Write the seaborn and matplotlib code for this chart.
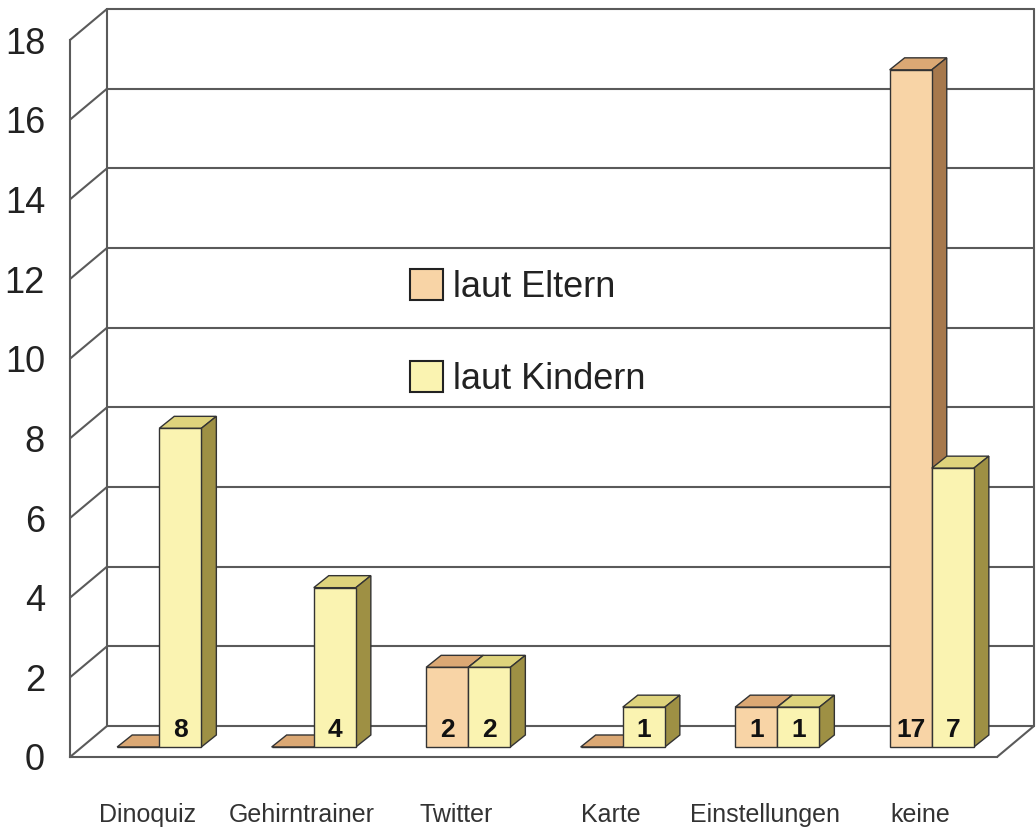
import numpy as np
import pandas as pd
import matplotlib
matplotlib.use("Agg")
import matplotlib.pyplot as plt
from matplotlib.patches import Polygon, Patch
import seaborn as sns

# ---- data -------------------------------------------------------------
kategorien = ["Dinoquiz", "Gehirntrainer", "Twitter", "Karte", "Einstellungen", "keine"]
serien = ["laut Eltern", "laut Kindern"]
werte_eltern = [0, 0, 2, 0, 1, 17]
werte_kinder = [8, 4, 2, 1, 1, 7]
y_ticks = [0, 2, 4, 6, 8, 10, 12, 14, 16, 18]

# ---- styling -------------------------------------------------------------
front_farben = {"laut Eltern": "#F8D4A6", "laut Kindern": "#FAF3B1"}
top_farben = {"laut Eltern": "#DBA874", "laut Kindern": "#DED37C"}
seite_farben = {"laut Eltern": "#A6784C", "laut Kindern": "#9E9044"}
grid_col = "#5a5a5a"
edge_col = "#333333"

sns.set_style("white")
plt.rcParams["font.family"] = ["Liberation Sans", "DejaVu Sans"]

W, H = 1036, 831
fig = plt.figure(figsize=(W / 100, H / 100), dpi=100)
ax_l, ax_r, ax_b, ax_t = 70, 997, 757, 40
ax = fig.add_axes([ax_l / W, 1 - ax_b / H, (ax_r - ax_l) / W, (ax_b - ax_t) / H])

df = pd.DataFrame({
    "Kategorie": kategorien * 2,
    "Quelle": [serien[0]] * len(kategorien) + [serien[1]] * len(kategorien),
    "Anzahl": werte_eltern + werte_kinder,
})

sns.barplot(data=df, x="Kategorie", y="Anzahl", hue="Quelle", order=kategorien,
            hue_order=serien, palette=front_farben, saturation=1, width=0.545, dodge=True,
            edgecolor=edge_col, linewidth=1.0, legend=False, ax=ax)

ax.set_xlim(-0.5, 5.5)
ax.set_ylim(0, 18)

# pixel -> data conversion for the oblique depth offsets
px_x = (ax_r - ax_l) / 6.0
px_y = (ax_b - ax_t) / 18.0
wall_dx, wall_dy = 37 / px_x, 31 / px_y      # back wall
bar_fx, bar_fy = 12 / px_x, 10 / px_y        # front plane of the bars
bar_dx, bar_dy = 15 / px_x, 12 / px_y        # bar depth

# back wall, side wall and floor
x0w, x1w = -0.5 + wall_dx, 5.5 + wall_dx
for v in y_ticks:
    ax.plot([x0w, x1w], [v + wall_dy, v + wall_dy], color=grid_col, lw=1.5,
            zorder=0.5, clip_on=False)
    ax.plot([-0.5, x0w], [v, v + wall_dy], color=grid_col, lw=1.5,
            zorder=0.5, clip_on=False)
ax.plot([x0w, x0w], [wall_dy, 18 + wall_dy], color=grid_col, lw=1.5, zorder=0.5, clip_on=False)
ax.plot([x1w, x1w], [wall_dy, 18 + wall_dy], color=grid_col, lw=1.5, zorder=0.5, clip_on=False)
ax.plot([5.5, x1w], [0, wall_dy], color=grid_col, lw=1.5, zorder=0.5, clip_on=False)

# 3D faces for every bar
for z, (serie, cont) in enumerate(zip(serien, ax.containers)):
    for p in cont.patches:
        x0 = p.get_x() + bar_fx
        w = p.get_width()
        h = p.get_height()
        p.set_x(x0)
        p.set_y(bar_fy)
        p.set_zorder(3 + 2 * z)
        p.set_clip_on(False)
        top = Polygon([(x0, bar_fy + h), (x0 + w, bar_fy + h),
                       (x0 + w + bar_dx, bar_fy + h + bar_dy), (x0 + bar_dx, bar_fy + h + bar_dy)],
                      closed=True, facecolor=top_farben[serie], edgecolor=edge_col,
                      lw=1.0, zorder=2.9 + 2 * z, clip_on=False)
        side = Polygon([(x0 + w, bar_fy), (x0 + w + bar_dx, bar_fy + bar_dy),
                        (x0 + w + bar_dx, bar_fy + h + bar_dy), (x0 + w, bar_fy + h)],
                       closed=True, facecolor=seite_farben[serie], edgecolor=edge_col,
                       lw=1.0, zorder=2.9 + 2 * z, clip_on=False)
        ax.add_patch(top)
        if h > 0:
            ax.add_patch(side)
            ax.annotate(f"{h:g}", (x0 + w / 2, bar_fy), xytext=(0, 12.5), textcoords="offset points",
                        ha="center", va="center", fontsize=19, fontweight="bold",
                        color="#111111", zorder=10)

# axes appearance
for s in ["top", "right"]:
    ax.spines[s].set_visible(False)
for s in ["left", "bottom"]:
    ax.spines[s].set_color(grid_col)
    ax.spines[s].set_linewidth(1.5)
ax.set_yticks(y_ticks)
ax.set_yticklabels([str(v) for v in y_ticks])
ax.tick_params(axis="y", direction="out", length=9, width=1.5, color=grid_col,
               pad=9, labelsize=26, labelcolor="#222222")
ax.tick_params(axis="x", length=0, pad=33, labelsize=18, labelcolor="#333333")
ax.set_xlabel("")
ax.set_ylabel("")
ax.grid(False)

handles = [Patch(facecolor=front_farben[s], edgecolor="#222222", lw=1.5) for s in serien]
fig.legend(handles, serien, loc="upper left", bbox_to_anchor=(410 / W, 1 - 269 / H),
           frameon=False, fontsize=26, handlelength=0.9, handleheight=0.95,
           handletextpad=0.3, labelspacing=1.55, borderpad=0, borderaxespad=0,
           labelcolor="#222222")

fig.savefig("out.png", dpi=100, facecolor="white")
